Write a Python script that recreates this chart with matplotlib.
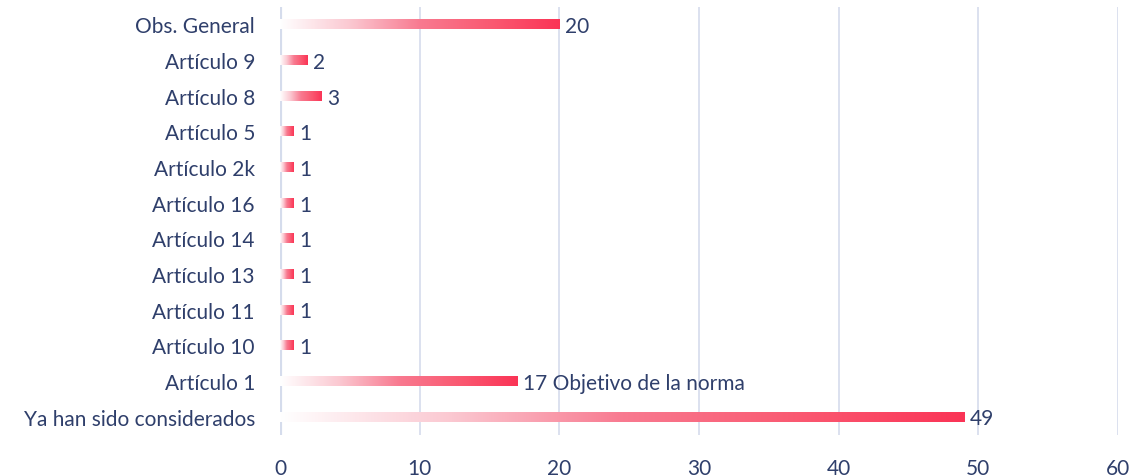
import matplotlib.pyplot as plt
import numpy as np
from matplotlib.colors import LinearSegmentedColormap

categorias = ["Obs. General", "Artículo 9", "Artículo 8", "Artículo 5", "Artículo 2k",
              "Artículo 16", "Artículo 14", "Artículo 13", "Artículo 11", "Artículo 10",
              "Artículo 1", "Ya han sido considerados"]
valores = [20, 2, 3, 1, 1, 1, 1, 1, 1, 1, 17, 49]
etiquetas = ["20", "2", "3", "1", "1", "1", "1", "1", "1", "1", "17 Objetivo de la norma", "49"]
xticks = [0, 10, 20, 30, 40, 50, 60]

plt.rcParams["font.family"] = ["Lato", "DejaVu Sans"]
texto = "#2F3F6B"
cmap = LinearSegmentedColormap.from_list("rojo", ["#FFFFFF", "#FBC8D1", "#F87A90", "#FA5A72", "#FA3456"])

fig = plt.figure(figsize=(11.32, 4.77), dpi=100)
ax = fig.add_axes([0.2473, 0.087, 0.7403, 0.897])

n = len(categorias)
ys = np.arange(n)[::-1]
h = 0.28
grad = np.linspace(0, 1, 256).reshape(1, -1)
for y, v, lab in zip(ys, valores, etiquetas):
    ax.imshow(grad, cmap=cmap, aspect="auto", extent=[0, v, y - h / 2, y + h / 2], zorder=3)
    ax.text(v + 0.4, y - 0.05, lab, va="center", ha="left", fontsize=15, color=texto, zorder=4)

ax.set_xlim(0, 60)
ax.set_ylim(-0.5, n - 0.5)
ax.set_xticks(xticks)
ax.set_yticks(ys)
ax.set_yticklabels(categorias)
ax.tick_params(length=0, labelsize=15, labelcolor=texto)
ax.tick_params(axis="x", pad=17)
ax.tick_params(axis="y", pad=18)
for s in ax.spines.values():
    s.set_visible(False)
for t in xticks[1:]:
    ax.axvline(t, color="#D5DCEC", lw=1.2, zorder=1)
ax.axvline(0, color="#D5DCEC", lw=3, zorder=2)

fig.savefig("out.png", dpi=100)
